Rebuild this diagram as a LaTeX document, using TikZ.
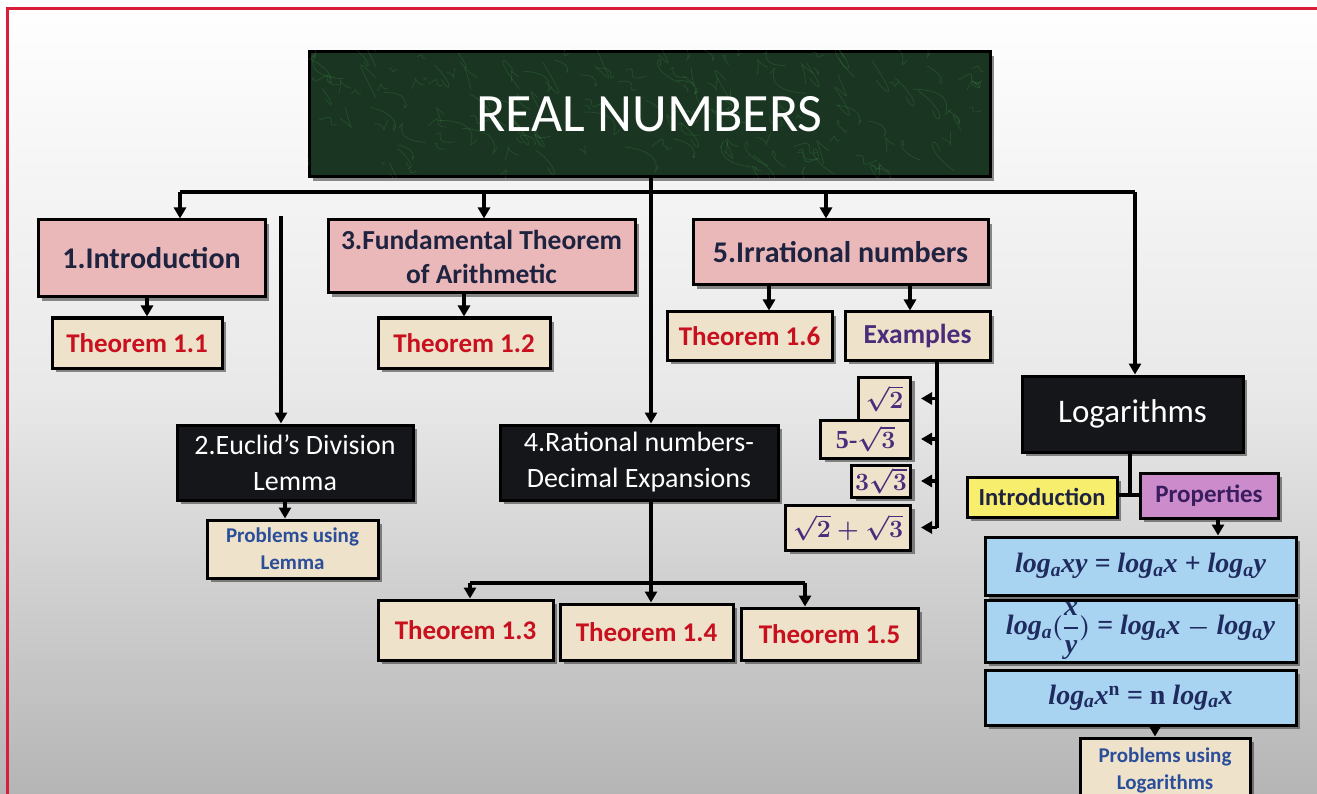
\documentclass[tikz,border=0pt]{standalone}
\usepackage{fontspec}
\setmainfont{Carlito}
\newfontfamily\serifb{Liberation Serif}
\usetikzlibrary{shadows,arrows.meta}
\definecolor{pinkc}{HTML}{EBB8BA}
\definecolor{beigec}{HTML}{EFE2CB}
\definecolor{redc}{HTML}{C8101E}
\definecolor{navyc}{HTML}{1E2340}
\definecolor{purplec}{HTML}{4B2C7A}
\definecolor{bluetc}{HTML}{2A4E9A}
\definecolor{yellowc}{HTML}{F7EE6E}
\definecolor{magc}{HTML}{CC8BCB}
\definecolor{propc}{HTML}{3A1D5E}
\definecolor{lbluec}{HTML}{A8D4F2}
\definecolor{greenc}{HTML}{1A3622}
\definecolor{darkc}{HTML}{15161A}
\definecolor{framec}{HTML}{D81F3A}
\definecolor{fnavy}{HTML}{1F2B5E}
\newcommand{\logA}{log\textsubscript{a}}
\tikzset{
  box/.style={draw=black, line width=3pt, inner sep=0pt, align=center,
    drop shadow={shadow xshift=4pt, shadow yshift=-4pt, opacity=0.6, fill=black!75}},
  pinkbox/.style={box, fill=pinkc, text=navyc},
  thmbox/.style={box, fill=beigec, text=redc, font=\bfseries\fontsize{27}{30}\selectfont},
  exbox/.style={box, fill=beigec, text=purplec, font=\bfseries\boldmath\fontsize{26}{30}\selectfont},
  probbox/.style={box, fill=beigec, text=bluetc, font=\bfseries\fontsize{21}{27}\selectfont},
  darkbox/.style={box, fill=darkc, text=white, font=\fontsize{28}{36}\selectfont},
  fbox/.style={box, fill=lbluec, text=fnavy, font=\serifb\bfseries\itshape\boldmath\fontsize{28}{30}\selectfont, minimum width=311pt},
  conn/.style={line width=3.2pt, black},
  arr/.style={conn, -{Triangle[length=11pt,width=12pt]}},
  vein/.style={green!55!gray!80, line width=0.7pt, opacity=0.16}
}
\begin{document}
\begin{tikzpicture}[x=1pt,y=-1pt]
\useasboundingbox (0,0) rectangle (1317,794);
\shade[top color=white, bottom color=black!29, middle color=black!9] (0,0) rectangle (1317,794);
\draw[framec, line width=3pt] (7,794) -- (7,9) -- (1317,9);

% title
\node[box, fill=greenc, minimum width=681pt, minimum height=125pt] (title) at (649.5,114.5) {};
\begin{scope}
  \clip (title.south west) rectangle (title.north east);
  \pgfmathsetseed{11}
  \foreach \i in {1,...,160}{
    \pgfmathsetmacro{\xa}{309+681*rnd}
    \pgfmathsetmacro{\ya}{52+125*rnd}
    \pgfmathsetmacro{\dx}{40*rnd-20}
    \pgfmathsetmacro{\dy}{40*rnd-20}
    \draw[vein] (\xa,\ya) .. controls (\xa+\dx,\ya-\dy) and (\xa-\dy,\ya+\dx) .. (\xa+\dx+\dy,\ya+\dy);
  }
\end{scope}
\node[text=white, font=\fontsize{54}{60}\selectfont] (ttl) at (title.center) {REAL NUMBERS};

% level 1
\node[pinkbox, minimum width=227pt, minimum height=77pt, font=\bfseries\fontsize{30}{34}\selectfont] (intro) at (151.5,258.5) {1.Introduction};
\node[pinkbox, minimum width=307pt, minimum height=73pt, font=\bfseries\fontsize{27.5}{34}\selectfont] (fund) at (481.5,256.5) {3.Fundamental Theorem\\of Arithmetic};
\node[pinkbox, minimum width=295pt, minimum height=65pt, font=\bfseries\fontsize{30}{34}\selectfont] (irr) at (840.5,252.5) {5.Irrational numbers};

\node[thmbox, minimum width=170pt, minimum height=50pt] (t11) at (137,343) {Theorem 1.1};
\node[thmbox, minimum width=172pt, minimum height=50pt] (t12) at (464,343) {Theorem 1.2};
\node[thmbox, minimum width=165pt, minimum height=48pt] (t16) at (749.5,336) {Theorem 1.6};
\node[box, fill=beigec, text=purplec, font=\bfseries\fontsize{27.5}{30}\selectfont, minimum width=145pt, minimum height=48pt] (exs) at (917.5,336) {Examples};

% examples
\node[exbox, minimum width=52pt, minimum height=43pt, anchor=east] (e1) at (912,398.5) {$\sqrt{2}$};
\node[exbox, minimum width=90pt, minimum height=38pt, anchor=east] (e2) at (912,439) {{\serifb 5-}$\sqrt{3}$};
\node[exbox, minimum width=59pt, minimum height=32pt, anchor=east] (e3) at (912,481) {$3\sqrt{3}$};
\node[exbox, minimum width=125pt, minimum height=45pt, anchor=east] (e4) at (912,527.5) {$\sqrt{2}+\sqrt{3}$};

% dark boxes
\node[darkbox, minimum width=236pt, minimum height=75pt] (euclid) at (295,462.5) {2.Euclid’s Division\\Lemma};
\node[darkbox, minimum width=278pt, minimum height=75pt] (rat) at (639,462.5) {4.Rational numbers-\\Decimal Expansions};
\node[darkbox, minimum width=221pt, minimum height=76pt, font=\fontsize{33}{38}\selectfont] (logn) at (1132.5,414) {Logarithms};

\node[probbox, minimum width=171pt, minimum height=58pt] (pl) at (292.5,549) {Problems using\\Lemma};

\node[thmbox, minimum width=175pt, minimum height=60pt] (t13) at (465.5,630) {Theorem 1.3};
\node[thmbox, minimum width=173pt, minimum height=56pt] (t14) at (646.5,632) {Theorem 1.4};
\node[thmbox, minimum width=177pt, minimum height=52pt] (t15) at (829.5,634) {Theorem 1.5};

% logarithms part
\node[box, fill=yellowc, text=navyc, font=\bfseries\fontsize{24.5}{28}\selectfont, minimum width=150pt, minimum height=40pt] (lint) at (1042,497) {Introduction};
\node[box, fill=magc, text=propc, font=\bfseries\fontsize{25}{28}\selectfont, minimum width=138pt, minimum height=45pt] (prop) at (1209,495.5) {Properties};

\node[fbox, minimum height=58pt] (f1) at (1140.5,566) {\logA xy = \logA x + \logA y};
\node[fbox, minimum height=62pt] (f2) at (1140.5,631) {\logA$\bigl(\displaystyle{\mbox{x}\above 1.2pt\mbox{y}}\bigr)$ = \logA x $-$ \logA y};
\node[fbox, minimum height=55pt] (f3) at (1140.5,697.5) {\logA x\textsuperscript{\upshape n} = {\upshape n} \logA x};
\node[probbox, minimum width=170pt, minimum height=64pt] (plog) at (1165,770) {Problems using\\Logarithms};

% connectors
\coordinate (b1) at (180,192);
\coordinate (b2) at (484,192);
\coordinate (b3) at (826,192);
\coordinate (b4) at (1135,192);
\coordinate (bm) at (651,192);
\draw[conn] (b1) -- (b4);
\draw[arr] (b1) -- (intro.north -| b1);
\draw[arr] (b2) -- (fund.north -| b2);
\draw[arr] (b3) -- (irr.north -| b3);
\draw[arr] (b4) -- (logn.north -| b4);
\draw[arr] (title.south -| bm) -- (rat.north -| bm);

\coordinate (ec) at (281,216);
\draw[arr] (ec) -- (euclid.north -| ec);

\coordinate (x11) at (147,0);
\draw[arr] (intro.south -| x11) -- (t11.north -| x11);
\draw[arr] (fund.south -| t12.north) -- (t12.north);
\coordinate (x16) at (769,0);
\draw[arr] (irr.south -| x16) -- (t16.north -| x16);
\coordinate (xex) at (910,0);
\draw[arr] (irr.south -| xex) -- (exs.north -| xex);

\coordinate (xl) at (937,0);
\coordinate (eend) at (937,528);
\draw[conn] (exs.south -| xl) -- (eend);
\foreach \e in {e1,e2,e3,e4}{
  \draw[arr, shorten >=9pt] (\e.east -| xl) -- (\e.east);
}

\coordinate (xpl) at (285,0);
\draw[arr] (euclid.south -| xpl) -- (pl.north -| xpl);

\coordinate (r1) at (470,583);
\coordinate (r2) at (651,583);
\coordinate (r3) at (805,583);
\draw[conn] (rat.south -| r2) -- (r2);
\draw[conn] (r1) -- (r3);
\draw[arr] (r1) -- (t13.north -| r1);
\draw[arr] (r2) -- (t14.north -| r2);
\draw[arr] (r3) -- (t15.north -| r3);

\coordinate (lj) at (1130,495);
\draw[conn] (logn.south -| lj) -- (lj);
\draw[conn] (lint.east |- lj) -- (prop.west |- lj);
\coordinate (xp) at (1218,0);
\draw[arr] (prop.south -| xp) -- (f1.north -| xp);
\coordinate (xq) at (1155,0);
\draw[arr] (f3.south -| xq) -- (plog.north -| xq);
\end{tikzpicture}
\end{document}
